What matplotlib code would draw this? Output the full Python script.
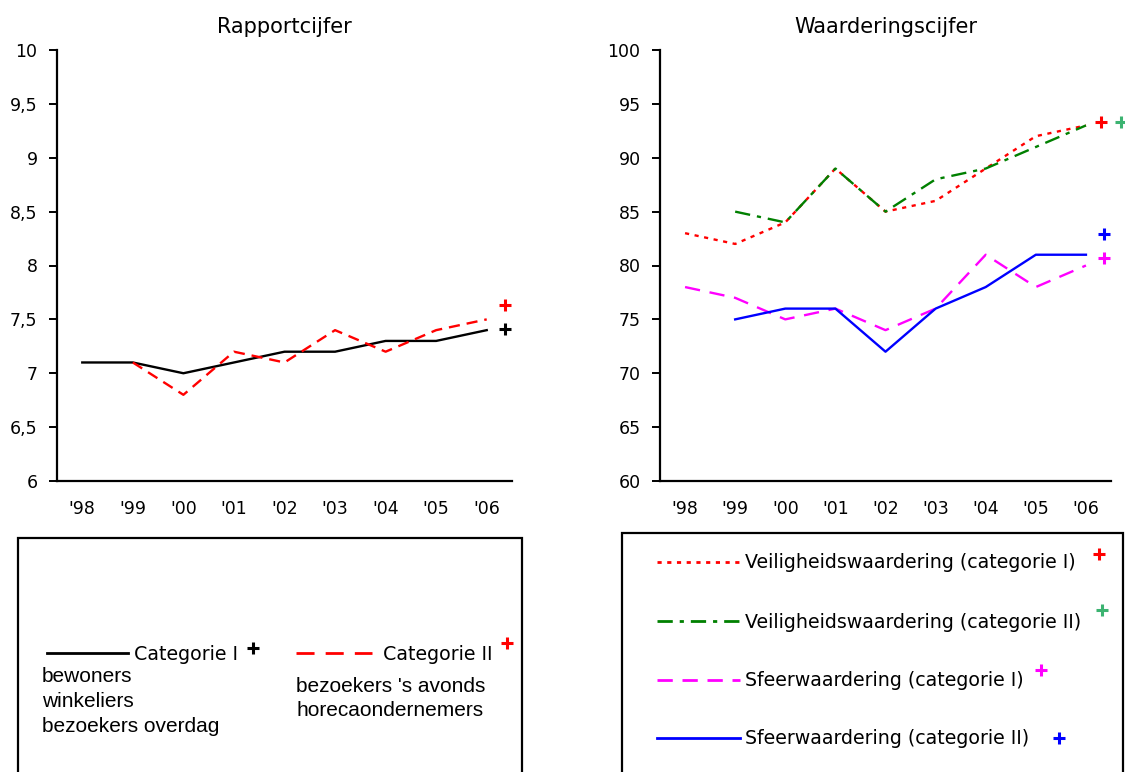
import matplotlib
matplotlib.use("Agg")
import matplotlib.pyplot as plt
from matplotlib.lines import Line2D
from matplotlib.patches import Rectangle

plt.rcParams["font.family"] = "DejaVu Sans"
plt.rcParams["lines.scale_dashes"] = False

years = ["'98", "'99", "'00", "'01", "'02", "'03", "'04", "'05", "'06"]

# Rapportcijfer
cat1 = [7.1, 7.1, 7.0, 7.1, 7.2, 7.2, 7.3, 7.3, 7.4]
cat2 = [None, 7.1, 6.8, 7.2, 7.1, 7.4, 7.2, 7.4, 7.5]

# Waarderingscijfer
veil_cat1 = [83, 82, 84, 89, 85, 86, 89, 92, 93]
veil_cat2 = [None, 85, 84, 89, 85, 88, 89, 91, 93]
sfeer_cat1 = [78, 77, 75, 76, 74, 76, 81, 78, 80]
sfeer_cat2 = [None, 75, 76, 76, 72, 76, 78, 81, 81]

# "+" significance marks (x in category units, y in data units)
plus_left = [(8.37, 7.41, "black"), (8.37, 7.63, "red")]
plus_right = [(8.3, 93.3, "red"), (8.7, 93.3, "mediumseagreen"),
              (8.36, 82.9, "blue"), (8.36, 80.7, "magenta")]


def series(vals):
    xs = [i for i, v in enumerate(vals) if v is not None]
    ys = [v for v in vals if v is not None]
    return xs, ys


def style_axes(ax, ylim, yticks, ylabels, title):
    ax.set_xlim(-0.5, 8.5)
    ax.set_ylim(*ylim)
    ax.set_yticks(yticks)
    ax.set_yticklabels(ylabels)
    ax.set_xticks(range(len(years)))
    ax.set_xticklabels(years)
    ax.spines["top"].set_visible(False)
    ax.spines["right"].set_visible(False)
    ax.spines["left"].set_linewidth(1.6)
    ax.spines["bottom"].set_linewidth(1.6)
    ax.tick_params(axis="y", direction="out", length=6, width=1.4, labelsize=12.5, pad=8)
    ax.tick_params(axis="x", length=0, labelsize=12.5, pad=14)
    ax.set_title(title, fontsize=15, pad=12)


fig = plt.figure(figsize=(11.25, 7.72), dpi=100)

W, H = 1125, 772


def rect(x0, y0, x1, y1):
    return [x0 / W, 1 - y1 / H, (x1 - x0) / W, (y1 - y0) / H]


ax1 = fig.add_axes(rect(57, 50, 512, 481))
ax2 = fig.add_axes(rect(660, 50, 1111, 481))

# left chart
x, y = series(cat1)
ax1.plot(x, y, color="black", lw=1.7)
x, y = series(cat2)
ax1.plot(x, y, color="red", lw=1.7, linestyle=(0, (8, 5)))
for px, py, c in plus_left:
    ax1.plot(px, py, marker="+", color=c, ms=9, mew=2.2, clip_on=False)
style_axes(ax1, (6, 10), [6, 6.5, 7, 7.5, 8, 8.5, 9, 9.5, 10],
           ["6", "6,5", "7", "7,5", "8", "8,5", "9", "9,5", "10"], "Rapportcijfer")

# right chart
x, y = series(veil_cat1)
ax2.plot(x, y, color="red", lw=1.7, linestyle=(0, (3, 4)))
x, y = series(veil_cat2)
ax2.plot(x, y, color="green", lw=1.7, linestyle=(0, (11, 5, 3, 5)))
x, y = series(sfeer_cat1)
ax2.plot(x, y, color="magenta", lw=1.7, linestyle=(0, (11, 7)))
x, y = series(sfeer_cat2)
ax2.plot(x, y, color="blue", lw=1.7)
for px, py, c in plus_right:
    ax2.plot(px, py, marker="+", color=c, ms=9, mew=2.2, clip_on=False)
yt = list(range(60, 101, 5))
style_axes(ax2, (60, 100), yt, [str(v) for v in yt], "Waarderingscijfer")


# legend boxes (figure pixel coordinates)
def fx(px):
    return px / W


def fy(py):
    return 1 - py / H


def box(x0, y0, x1, y1):
    fig.add_artist(Rectangle((fx(x0), fy(y1)), fx(x1 - x0), (y1 - y0) / H,
                             fill=False, lw=1.6, ec="black", transform=fig.transFigure))


def sample(x0, x1, yy, **kw):
    fig.add_artist(Line2D([fx(x0), fx(x1)], [fy(yy), fy(yy)], lw=2,
                          transform=fig.transFigure, **kw))


def txt(xx, yy, s, **kw):
    fig.text(fx(xx), fy(yy), s, va="center", ha="left", **kw)


def plus(xx, yy, c):
    fig.add_artist(Line2D([fx(xx)], [fy(yy)], marker="+", color=c, ms=9, mew=2.2,
                          transform=fig.transFigure))


box(18, 538, 522, 775)
sample(47, 128, 653, color="black")
txt(134, 655, "Categorie I", fontsize=13.7)
plus(253, 648, "black")
sample(296, 372, 653, color="red", linestyle=(0, (13, 8)))
txt(383, 655, "Categorie II", fontsize=13.7)
plus(507, 643, "red")
for i, s in enumerate(["bewoners", "winkeliers", "bezoekers overdag"]):
    txt(42, 677 + i * 24.5, s, fontsize=15, family="Liberation Sans")
for i, s in enumerate(["bezoekers 's avonds", "horecaondernemers"]):
    txt(296, 686 + i * 24.5, s, fontsize=15, family="Liberation Sans")

box(622, 533, 1123, 775)
entries = [
    ("Veiligheidswaardering (categorie I)", "red", (0, (3, 4)), 562, (1099, 554), "red"),
    ("Veiligheidswaardering (categorie II)", "green", (0, (11, 5, 3, 5)), 621, (1102, 610), "mediumseagreen"),
    ("Sfeerwaardering (categorie I)", "magenta", (0, (11, 7)), 680, (1041, 670), "magenta"),
    ("Sfeerwaardering (categorie II)", "blue", "-", 738, (1059, 738), "blue"),
]
for label, c, ls, yy, (pxx, pyy), pc in entries:
    sample(657, 740, yy, color=c, linestyle=ls)
    txt(745, yy + 1, label, fontsize=13.7)
    plus(pxx, pyy, pc)

fig.savefig("out.png", dpi=100)
